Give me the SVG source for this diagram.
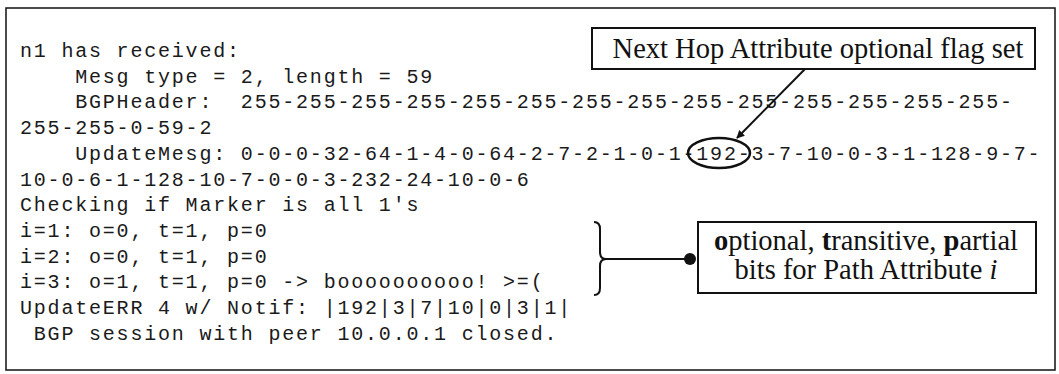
<svg xmlns="http://www.w3.org/2000/svg" width="1059" height="374" viewBox="0 0 1059 374">
<style>
.mono{font-family:"Courier New","Liberation Mono",monospace;font-size:20px;letter-spacing:1.8px;white-space:pre;fill:#1a1a1a}
.serif{font-family:"Liberation Serif","Times New Roman",serif;font-size:28.5px;fill:#111;text-anchor:middle}
.box{fill:#fff;stroke:#111;stroke-width:2}
.ln{fill:none;stroke:#111;stroke-width:2}
</style>
<defs>
<marker id="ah" viewBox="0 0 10 10" refX="9" refY="5" markerWidth="9" markerHeight="8" markerUnits="userSpaceOnUse" orient="auto">
<path d="M0,0 L10,5 L0,10 z" fill="#111"/>
</marker>
</defs>
<rect x="0" y="0" width="1059" height="374" fill="#fff"/>
<rect x="6" y="8" width="1049" height="362" fill="none" stroke="#111" stroke-width="1.5"/>
<g id="log">
<text class="mono" x="20" y="57">n1 has received:</text>
<text class="mono" x="20" y="82.7">    Mesg type = 2, length = 59</text>
<text class="mono" x="20" y="108.4">    BGPHeader:  255-255-255-255-255-255-255-255-255-255-255-255-255-255-</text>
<text class="mono" x="20" y="134.1">255-255-0-59-2</text>
<text class="mono" x="20" y="159.8">    UpdateMesg: 0-0-0-32-64-1-4-0-64-2-7-2-1-0-1-192-3-7-10-0-3-1-128-9-7-</text>
<text class="mono" x="20" y="185.5">10-0-6-1-128-10-7-0-0-3-232-24-10-0-6</text>
<text class="mono" x="20" y="211.2">Checking if Marker is all 1's</text>
<text class="mono" x="20" y="236.9">i=1: o=0, t=1, p=0</text>
<text class="mono" x="20" y="262.6">i=2: o=0, t=1, p=0</text>
<text class="mono" x="20" y="288.3">i=3: o=1, t=1, p=0 -&gt; boooooooooo! &gt;=(</text>
<text class="mono" x="20" y="314">UpdateERR 4 w/ Notif: |192|3|7|10|0|3|1|</text>
<text class="mono" x="20" y="339.7"> BGP session with peer 10.0.0.1 closed.</text>
</g>
<g id="highlight-192">
<ellipse cx="719" cy="153" rx="31" ry="15" fill="none" stroke="#111" stroke-width="2.5"/>
</g>
<g id="note-nexthop">
<rect class="box" x="592" y="28" width="443" height="41"/>
<text class="serif" x="818" y="58">Next Hop Attribute optional flag set</text>
</g>
<g id="note-bits">
<rect class="box" x="698" y="222" width="338" height="71"/>
<text class="serif" x="866" y="250"><tspan font-weight="bold">o</tspan>ptional, <tspan font-weight="bold">t</tspan>ransitive, <tspan font-weight="bold">p</tspan>artial</text>
<text class="serif" x="866" y="279">bits for Path Attribute <tspan font-style="italic">i</tspan></text>
</g>
<g id="connectors">
<line class="ln" x1="805" y1="69" x2="737" y2="138" marker-end="url(#ah)"/>
<path class="ln" d="M594 222 Q600 222 600 229 L600 252 Q600 259 606 259 Q600 259 600 266 L600 288 Q600 295 594 295"/>
<line class="ln" x1="606" y1="259" x2="690" y2="259"/>
<circle cx="690" cy="259" r="6" fill="#111"/>
</g>
</svg>
